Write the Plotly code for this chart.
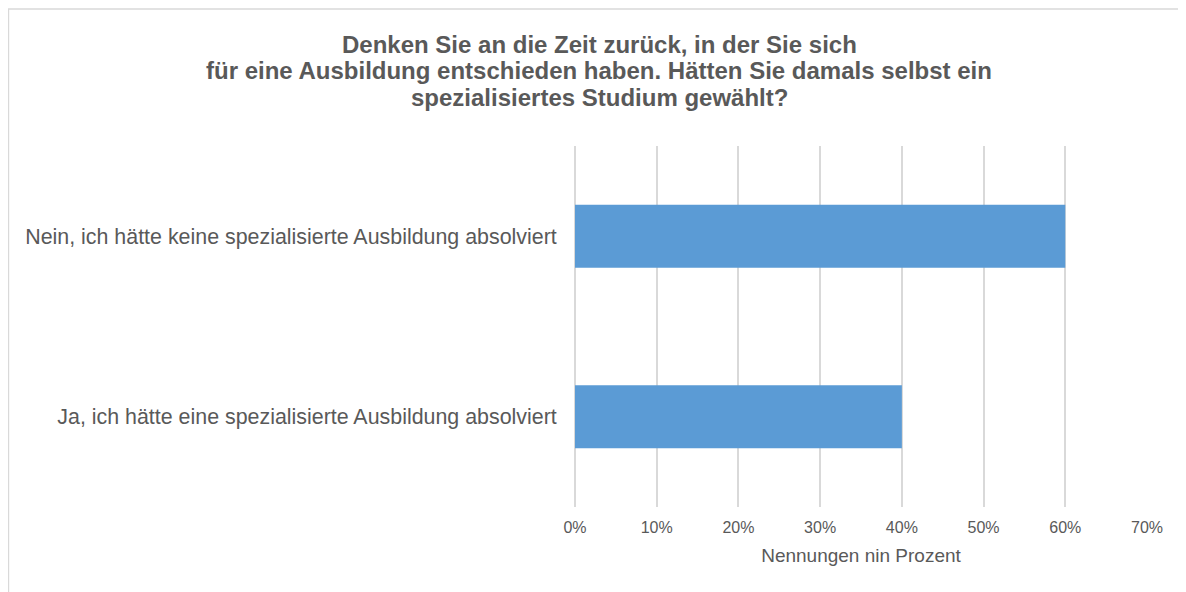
import plotly.graph_objects as go

# Survey answers (bottom to top as plotly draws them)
categories = [
    "Ja, ich hätte eine spezialisierte Ausbildung absolviert",
    "Nein, ich hätte keine spezialisierte Ausbildung absolviert",
]
shares = [40, 60]
tick_values = [0, 10, 20, 30, 40, 50, 60, 70]
tick_labels = [f"{v}%" for v in tick_values]

title_lines = [
    "Denken Sie an die Zeit zurück, in der Sie sich",
    "für eine Ausbildung entschieden haben. Hätten Sie damals selbst ein",
    "spezialisiertes Studium gewählt?",
]

grey = "#595959"
grid = "#d9d9d9"

fig = go.Figure()

fig.add_trace(go.Bar(
    x=shares,
    y=categories,
    orientation="h",
    marker=dict(color="#5b9bd5", line=dict(width=0)),
    hoverinfo="x+y",
))

# light frame around the chart area (as in the Excel export)
fig.add_shape(
    type="rect", xref="paper", yref="paper",
    x0=-0.9905, x1=1.1, y0=-0.3, y1=1.3795,
    line=dict(color=grid, width=1.5),
    fillcolor="rgba(0,0,0,0)",
    layer="below",
)

# title, one annotation per line to get the tight Excel line spacing
for line, ypos in zip(title_lines, [1.2798, 1.2078, 1.1357]):
    fig.add_annotation(
        text=f"<b>{line}</b>",
        xref="paper", yref="paper",
        x=0.042, y=ypos,
        xanchor="center", yanchor="middle",
        showarrow=False,
        font=dict(size=24, color=grey),
    )

fig.update_layout(
    width=1178,
    height=584,
    margin=dict(l=567, r=39, t=138, b=85),
    paper_bgcolor="white",
    plot_bgcolor="white",
    showlegend=False,
    bargap=0.65,
    font=dict(family="Liberation Sans, Arial, sans-serif", color=grey),
    xaxis=dict(
        range=[0, 70],
        tickmode="array",
        tickvals=tick_values,
        ticktext=tick_labels,
        showgrid=True,
        gridcolor=grid,
        gridwidth=1.5,
        zeroline=True,
        zerolinecolor=grid,
        zerolinewidth=1.5,
        showline=False,
        ticks="outside",
        ticklen=6,
        tickcolor="rgba(0,0,0,0)",
        tickfont=dict(size=16, color=grey),
        title=dict(text="Nennungen nin Prozent", font=dict(size=19, color=grey), standoff=13),
        fixedrange=True,
    ),
    yaxis=dict(
        showgrid=False,
        zeroline=False,
        showline=False,
        ticks="outside",
        ticklen=13,
        tickcolor="rgba(0,0,0,0)",
        tickfont=dict(size=21.4, color=grey),
        fixedrange=True,
    ),
)

fig.write_html("out.html")
